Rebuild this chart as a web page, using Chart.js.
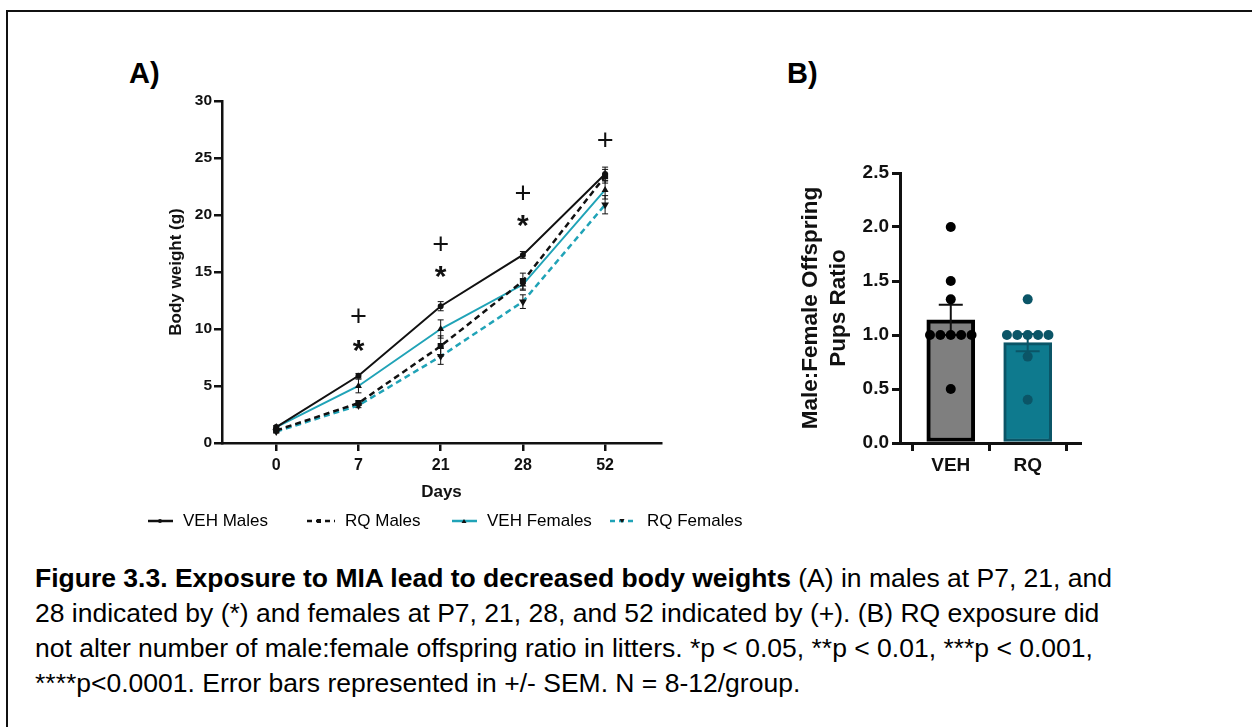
<!DOCTYPE html>
<html>
<head>
<meta charset="utf-8">
<script src="https://cdn.jsdelivr.net/npm/chart.js@4.4.1/dist/chart.umd.min.js"></script>
<style>
  html, body { margin: 0; padding: 0; background: #fff; }
  body { width: 1252px; height: 727px; position: relative; overflow: hidden; font-family: "Liberation Sans", Arial, sans-serif; color: #000; }
  .frame { position: absolute; left: 6px; top: 10px; width: 1260px; height: 800px; border: 2px solid #111; box-sizing: border-box; }
  .panel-label { position: absolute; font-weight: bold; font-size: 29px; }
  #wrapA { position: absolute; left: 150px; top: 80px; width: 540px; height: 440px; }
  #wrapB { position: absolute; left: 780px; top: 150px; width: 320px; height: 330px; }
  .legend { position: absolute; top: 511px; font-size: 17px; height: 20px; line-height: 20px; }
  .legend svg { position: absolute; top: 0; }
  .caption { position: absolute; left: 35px; top: 561px; font-size: 26.5px; line-height: 35px; white-space: nowrap; }
</style>
</head>
<body>
<div class="frame"></div>
<div class="panel-label" style="left:129px; top:57px;">A)</div>
<div class="panel-label" style="left:787px; top:57px;">B)</div>

<div id="wrapA"><canvas id="chartA" width="540" height="440"></canvas></div>
<div id="wrapB"><canvas id="chartB" width="320" height="330"></canvas></div>

<div id="legend"></div>

<div class="caption"><b>Figure 3.3. Exposure to MIA lead to decreased body weights</b> (A) in males at P7, 21, and<br>28 indicated by (*) and females at P7, 21, 28, and 52 indicated by (+). (B) RQ exposure did<br>not alter number of male:female offspring ratio in litters. *p &lt; 0.05, **p &lt; 0.01, ***p &lt; 0.001,<br>****p&lt;0.0001. Error bars represented in +/- SEM. N = 8-12/group.</div>

<script>
// ---- panel A data (body weight, g) ----
var dayLabels = ['0', '7', '21', '28', '52'];
var vehMales = [1.4, 5.9, 12.0, 16.5, 23.6];
var vehMalesSem = [0.1, 0.2, 0.4, 0.3, 0.6];
var rqMales = [1.1, 3.5, 8.5, 14.2, 23.4];
var rqMalesSem = [0.1, 0.2, 0.9, 0.7, 0.6];
var vehFemales = [1.4, 5.0, 10.0, 13.9, 22.2];
var vehFemalesSem = [0.1, 0.6, 0.8, 0.5, 0.8];
var rqFemales = [1.0, 3.3, 7.6, 12.4, 20.9];
var rqFemalesSem = [0.1, 0.2, 0.7, 0.6, 0.8];
// significance marks: day index and y level
var plusIdx = [1, 2, 3, 4];
var plusY = [11.2, 17.5, 22.0, 26.6];
var starIdx = [1, 2, 3];
var starY = [8.5, 15.0, 19.5];

// ---- panel B data (male:female ratio) ----
var groups = ['VEH', 'RQ'];
var ratioMean = [1.14, 0.93];
var ratioSem = [0.14, 0.08];
var vehRatios = [2.0, 1.5, 1.33, 1.0, 1.0, 1.0, 1.0, 1.0, 0.5];
var rqRatios = [1.33, 1.0, 1.0, 1.0, 1.0, 1.0, 0.8, 0.4];

var FONT = '"Liberation Sans", Arial, sans-serif';
var TEAL = '#20a3b7';

function xy(arr) {
  return arr.map(function(v, i) { return { x: i, y: v }; });
}

// spread repeated values sideways like the dot plot does
function jitter(values, center) {
  var counts = {}, seen = {};
  values.forEach(function(v) { counts[v] = (counts[v] || 0) + 1; });
  return values.map(function(v) {
    var n = counts[v];
    var k = seen[v] = (seen[v] === undefined ? 0 : seen[v] + 1);
    var off = n > 1 ? (k - (n - 1) / 2) * 0.135 : 0;
    return { x: center + off, y: v };
  });
}

var errorBarsA = {
  id: 'errorBarsA',
  afterDatasetsDraw: function(chart) {
    var ctx = chart.ctx, xs = chart.scales.x, ys = chart.scales.y;
    ctx.save();
    ctx.strokeStyle = '#111';
    ctx.lineWidth = 1;
    chart.data.datasets.forEach(function(ds) {
      ds.data.forEach(function(p, i) {
        var x = xs.getPixelForValue(p.x);
        var y1 = ys.getPixelForValue(p.y + ds.sem[i]);
        var y2 = ys.getPixelForValue(p.y - ds.sem[i]);
        ctx.beginPath();
        ctx.moveTo(x, y1); ctx.lineTo(x, y2);
        ctx.moveTo(x - 3, y1); ctx.lineTo(x + 3, y1);
        ctx.moveTo(x - 3, y2); ctx.lineTo(x + 3, y2);
        ctx.stroke();
      });
    });
    // significance symbols
    ctx.fillStyle = '#111';
    ctx.textAlign = 'center';
    ctx.textBaseline = 'alphabetic';
    function mark(sym, font, idx, yv) {
      ctx.font = font;
      var m = ctx.measureText(sym);
      var x = xs.getPixelForValue(idx);
      var y = ys.getPixelForValue(yv);
      var shift = (m.actualBoundingBoxAscent - m.actualBoundingBoxDescent) / 2;
      ctx.fillText(sym, x, y + shift);
    }
    plusIdx.forEach(function(d, i) { mark('+', '29px ' + FONT, d, plusY[i]); });
    starIdx.forEach(function(d, i) { mark('*', 'bold 30px ' + FONT, d, starY[i]); });
    ctx.restore();
  }
};

new Chart(document.getElementById('chartA'), {
  type: 'line',
  data: {
    datasets: [
      { label: 'VEH Males', data: xy(vehMales), sem: vehMalesSem, borderColor: '#111', borderWidth: 2,
        pointStyle: 'circle', pointRadius: 2, pointBackgroundColor: '#111', pointBorderColor: '#111' },
      { label: 'RQ Males', data: xy(rqMales), sem: rqMalesSem, borderColor: '#111', borderWidth: 2.5, borderDash: [6, 4],
        pointStyle: 'rect', pointRadius: 2.5, pointBackgroundColor: '#111', pointBorderColor: '#111' },
      { label: 'VEH Females', data: xy(vehFemales), sem: vehFemalesSem, borderColor: TEAL, borderWidth: 2,
        pointStyle: 'triangle', pointRadius: 2, pointBackgroundColor: '#111', pointBorderColor: '#111' },
      { label: 'RQ Females', data: xy(rqFemales), sem: rqFemalesSem, borderColor: TEAL, borderWidth: 2.5, borderDash: [6, 4],
        pointStyle: 'triangle', pointRotation: 180, pointRadius: 2, pointBackgroundColor: '#111', pointBorderColor: '#111' }
    ]
  },
  options: {
    responsive: false,
    animation: false,
    events: [],
    layout: { padding: { left: 0, top: 21, right: 29, bottom: 0 } },
    plugins: { legend: { display: false }, tooltip: { enabled: false } },
    scales: {
      x: {
        type: 'linear', min: -0.66, max: 4.68,
        afterBuildTicks: function(s) { s.ticks = [0, 1, 2, 3, 4].map(function(v) { return { value: v }; }); },
        afterFit: function(s) { s.height = 77; },
        ticks: { color: '#111', font: { family: FONT, size: 16, weight: 'bold' }, padding: 5,
          callback: function(v) { return dayLabels[v]; } },
        grid: { drawOnChartArea: false, color: '#111', lineWidth: 2.5, tickLength: 8 },
        border: { color: '#111', width: 2.5 },
        title: { display: true, text: 'Days', color: '#111', font: { family: FONT, size: 17, weight: 'bold' },
          padding: { top: 0, bottom: 17 } }
      },
      y: {
        min: 0, max: 30,
        afterFit: function(s) { s.width = 72; },
        ticks: { stepSize: 5, color: '#111', font: { family: FONT, size: 15.5, weight: 'bold' }, padding: 2 },
        grid: { drawOnChartArea: false, color: '#111', lineWidth: 2.5, tickLength: 8 },
        border: { color: '#111', width: 2.5 },
        title: { display: true, text: 'Body weight (g)', color: '#111', font: { family: FONT, size: 17, weight: 'bold' },
          padding: { top: 16, bottom: 0 } }
      }
    }
  },
  plugins: [errorBarsA]
});

var errorBarsB = {
  id: 'errorBarsB',
  afterDatasetDraw: function(chart, args) {
    if (args.index !== 2) return;
    var ctx = chart.ctx, xs = chart.scales.x, ys = chart.scales.y;
    var colors = ['#111', '#0b5567'];
    ctx.save();
    ctx.lineWidth = 2;
    ratioMean.forEach(function(m, i) {
      var x = xs.getPixelForValue(i);
      var y1 = ys.getPixelForValue(m + ratioSem[i]);
      var y2 = ys.getPixelForValue(m - ratioSem[i]);
      ctx.strokeStyle = colors[i];
      ctx.beginPath();
      ctx.moveTo(x, y1); ctx.lineTo(x, y2);
      ctx.moveTo(x - 12, y1); ctx.lineTo(x + 12, y1);
      ctx.moveTo(x - 12, y2); ctx.lineTo(x + 12, y2);
      ctx.stroke();
    });
    ctx.restore();
  }
};

new Chart(document.getElementById('chartB'), {
  type: 'bar',
  data: {
    datasets: [
      { type: 'scatter', data: jitter(vehRatios, 0), order: 0, pointRadius: 5,
        backgroundColor: '#000', borderColor: '#000', borderWidth: 0 },
      { type: 'scatter', data: jitter(rqRatios, 1), order: 0, pointRadius: 5,
        backgroundColor: '#0b5567', borderColor: '#0b5567', borderWidth: 0 },
      { type: 'bar', order: 1, data: ratioMean.map(function(v, i) { return { x: i, y: v }; }),
        backgroundColor: ['#7f7f7f', '#0e7a8e'], borderColor: ['#000', '#0b5567'], borderWidth: [4, 3],
        borderSkipped: false, barThickness: 48 }
    ]
  },
  options: {
    responsive: false,
    animation: false,
    events: [],
    layout: { padding: { left: 0, top: 23, right: 20, bottom: 0 } },
    plugins: { legend: { display: false }, tooltip: { enabled: false } },
    scales: {
      x: {
        type: 'linear', min: -0.66, max: 1.68, offset: false,
        afterBuildTicks: function(s) { s.ticks = [{ value: 0 }, { value: 1 }]; },
        afterFit: function(s) { s.height = 37; },
        ticks: { color: '#111', font: { family: FONT, size: 19, weight: 'bold' }, padding: 3,
          callback: function(v) { return groups[v]; } },
        grid: { drawOnChartArea: false, color: '#111', lineWidth: 3, tickLength: 8 },
        border: { color: '#111', width: 3 }
      },
      y: {
        min: 0, max: 2.5,
        afterFit: function(s) { s.width = 120; },
        ticks: { stepSize: 0.5, color: '#111', font: { family: FONT, size: 19, weight: 'bold' }, padding: 3,
          callback: function(v) { return v.toFixed(1); } },
        grid: { drawOnChartArea: false, color: '#111', lineWidth: 3, tickLength: 8 },
        border: { color: '#111', width: 3 },
        title: { display: true, text: ['Male:Female Offspring', 'Pups Ratio'], color: '#111',
          font: { family: FONT, size: 22.5, weight: 'bold', lineHeight: 1.25 }, padding: { top: 17, bottom: 0 } }
      }
    }
  },
  plugins: [errorBarsB]
});

// legend, built from the series names
var legendItems = [
  { name: 'VEH Males', color: '#111', dash: '', marker: 'circle', x: 148, tx: 183 },
  { name: 'RQ Males', color: '#111', dash: '5,4', marker: 'rect', x: 307, tx: 345 },
  { name: 'VEH Females', color: TEAL, dash: '', marker: 'tri', x: 452, tx: 487 },
  { name: 'RQ Females', color: TEAL, dash: '5,4', marker: 'tri2', x: 610, tx: 647 }
];
var lg = document.getElementById('legend');
legendItems.forEach(function(it) {
  var mk = '';
  if (it.marker === 'circle') mk = '<circle cx="12" cy="10" r="2" fill="#111"/>';
  if (it.marker === 'rect') mk = '<rect x="10" y="8" width="4" height="4" fill="#111"/>';
  if (it.marker === 'tri') mk = '<polygon points="12,8 14.5,12 9.5,12" fill="#111"/>';
  if (it.marker === 'tri2') mk = '<polygon points="12,12 14.5,8 9.5,8" fill="#111"/>';
  var w = it.tx - it.x - 10;
  lg.insertAdjacentHTML('beforeend',
    '<div class="legend" style="left:' + it.x + 'px;">' +
    '<svg width="' + w + '" height="20" style="left:0"><line x1="0" y1="10" x2="' + w + '" y2="10" stroke="' + it.color + '" stroke-width="2.5"' +
    (it.dash ? ' stroke-dasharray="' + it.dash + '"' : '') + '/>' + mk + '</svg>' +
    '<span style="position:absolute; left:' + (it.tx - it.x) + 'px; white-space:nowrap;">' + it.name + '</span></div>');
});
</script>
</body>
</html>
